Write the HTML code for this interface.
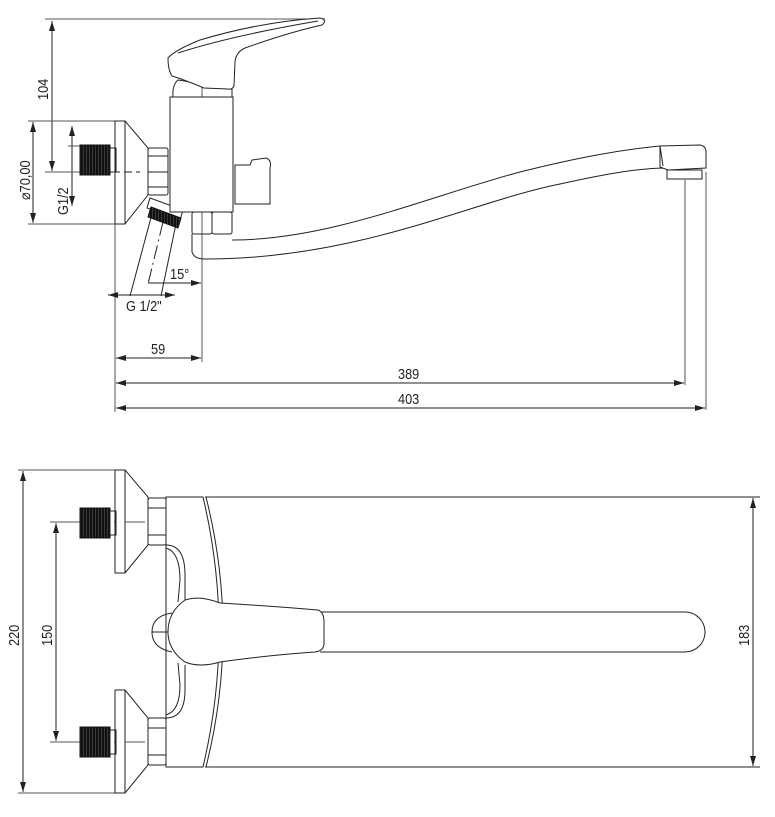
<!DOCTYPE html>
<html><head><meta charset="utf-8"><style>
html,body{margin:0;padding:0;background:#fff;width:775px;height:817px;overflow:hidden}
svg{display:block}
text{font-family:"Liberation Sans",sans-serif;font-size:15px;fill:#222}
</style></head><body>
<svg width="775" height="817" viewBox="0 0 775 817" xmlns="http://www.w3.org/2000/svg">
<defs>
<marker id="a" viewBox="0 0 10 6" refX="10" refY="3" markerWidth="10" markerHeight="6" orient="auto-start-reverse" markerUnits="userSpaceOnUse"><path d="M0,0L10,3L0,6z" fill="#222"/></marker>
<pattern id="th" width="3" height="4" patternUnits="userSpaceOnUse"><rect width="3" height="4" fill="#111"/><rect x="2" width="0.6" height="4" fill="#555"/></pattern>
</defs>
<g fill="none" stroke="#222" stroke-width="1">
<line x1="45" y1="19" x2="325" y2="19" stroke="#555"/>
<line x1="52" y1="21" x2="52" y2="171" marker-start="url(#a)" marker-end="url(#a)"/>
<line x1="45" y1="172" x2="118" y2="172" stroke="#555"/>
<line x1="28" y1="121" x2="115" y2="121" stroke="#555"/>
<line x1="28" y1="224" x2="115" y2="224" stroke="#555"/>
<line x1="33" y1="122" x2="33" y2="223" marker-start="url(#a)" marker-end="url(#a)"/>
<line x1="72" y1="126" x2="72" y2="206" marker-start="url(#a)" marker-end="url(#a)"/>
<line x1="68" y1="146" x2="82" y2="146" stroke="#555"/>
<line x1="68" y1="172" x2="82" y2="172" stroke="#555"/>
<line x1="115" y1="224" x2="115" y2="412" stroke="#555"/>
<line x1="202" y1="85" x2="202" y2="362" stroke="#555"/>
<line x1="116" y1="358" x2="201" y2="358" marker-start="url(#a)" marker-end="url(#a)"/>
<line x1="685" y1="180" x2="685" y2="385" stroke="#555"/>
<line x1="706" y1="172" x2="706" y2="410" stroke="#555"/>
<line x1="116" y1="383" x2="684" y2="383" marker-start="url(#a)" marker-end="url(#a)"/>
<line x1="116" y1="408" x2="705" y2="408" marker-start="url(#a)" marker-end="url(#a)"/>
<line x1="148" y1="283" x2="201" y2="283" marker-end="url(#a)"/>
<line x1="108" y1="295" x2="175" y2="295" marker-start="url(#a)" marker-end="url(#a)"/>
<line x1="153" y1="210" x2="130" y2="296"/>
<line x1="178" y1="214" x2="161" y2="296"/>
<line x1="163" y1="222" x2="148" y2="284" stroke-dasharray="14 4 2 4"/>
<rect x="115" y="121" width="10" height="103" fill="#fff"/>
<path d="M125,121L148,148L148,195L125,224"/>
<rect x="80" y="145" width="30" height="30" fill="url(#th)" stroke="#111"/>
<rect x="110" y="148" width="6" height="24"/>
<line x1="112" y1="172" x2="140" y2="172" stroke-dasharray="8 4"/>
<rect x="148" y="148" width="20" height="47" rx="2"/>
<line x1="148" y1="156" x2="168" y2="156"/><line x1="148" y1="172" x2="168" y2="172"/><line x1="148" y1="187" x2="168" y2="187"/>
<path d="M150,198L183,210L180,220L147,208z" fill="#fff"/>
<path d="M151,207L181,218L178,228L148,217z" fill="url(#th)" stroke="#111"/>
<path d="M170,97L233,97L233,212L170,212z" fill="#fff"/>
<path d="M173,97Q172,85 178,80L232,88L232,97"/>
<path d="M168,58Q175,50 200,40Q260,22 320,18Q328,20 322,25Q290,32 245,48Q236,52 235,62L234,86Q232,90 228,89L204,88Q185,80 172,76Q168,70 168,58z" fill="#fff"/>
<path d="M178,53Q230,36 318,21"/>
<path d="M235,165L250,165L252,160L266,158Q272,160 270,168L270,204L235,204z" fill="#fff"/>
<rect x="192" y="212" width="20" height="22" rx="2"/>
<rect x="212" y="212" width="20" height="22" rx="2"/>
<path d="M192,234L192,252Q194,259 205,259C360,259 470,202 560,184C610,173 640,168 668,168" fill="none"/>
<path d="M232,240C330,240 430,196 520,172C580,157 620,150 660,146"/>
<path d="M660,146L700,145Q706,146 706,152L706,168L668,170L660,167z" fill="#fff"/>
<line x1="660" y1="146" x2="663" y2="166"/>
<rect x="667" y="170" width="35" height="9" fill="#fff"/>
<line x1="18" y1="470" x2="118" y2="470" stroke="#555"/>
<line x1="18" y1="793" x2="118" y2="793" stroke="#555"/>
<line x1="23" y1="471" x2="23" y2="792" marker-start="url(#a)" marker-end="url(#a)"/>
<line x1="50" y1="522" x2="145" y2="522" stroke="#555" stroke-dasharray="60 4 6 4"/>
<line x1="50" y1="742" x2="145" y2="742" stroke="#555" stroke-dasharray="60 4 6 4"/>
<line x1="56" y1="523" x2="56" y2="741" marker-start="url(#a)" marker-end="url(#a)"/>
<line x1="205" y1="497" x2="760" y2="497"/>
<line x1="205" y1="767" x2="760" y2="767"/>
<line x1="753" y1="498" x2="753" y2="766" marker-start="url(#a)" marker-end="url(#a)"/>
<rect x="115" y="470" width="10" height="103" fill="#fff"/>
<path d="M125,470L148,497L148,545L125,573"/>
<rect x="115" y="690" width="10" height="103" fill="#fff"/>
<path d="M125,690L148,718L148,765L125,793"/>
<rect x="80" y="508" width="30" height="30" fill="url(#th)" stroke="#111"/>
<rect x="110" y="511" width="6" height="24"/>
<rect x="80" y="727" width="30" height="30" fill="url(#th)" stroke="#111"/>
<rect x="110" y="730" width="6" height="24"/>
<rect x="148" y="498" width="18" height="47" rx="2" fill="#fff"/>
<line x1="148" y1="508" x2="166" y2="508"/><line x1="148" y1="535" x2="166" y2="535"/>
<rect x="148" y="718" width="18" height="47" rx="2" fill="#fff"/>
<line x1="148" y1="728" x2="166" y2="728"/><line x1="148" y1="755" x2="166" y2="755"/>
<path d="M166,497L203,497Q235,632 203,767L166,767z" fill="#fff"/>
<path d="M206,497Q240,632 206,767"/>
<path d="M166,545Q185,545 185,575L185,600"/>
<path d="M166,718Q185,718 185,690L185,665"/>
<path d="M166,548Q180,552 180,580L178,602"/>
<path d="M166,715Q180,711 180,685L178,663"/>
<path d="M172,613Q152,616 152,632Q152,648 172,652"/>
<line x1="152" y1="632" x2="170" y2="632"/>
<path d="M320,612L685,612A20,20 0 0 1 685,652L320,652"/>
<path d="M185,600Q200,595 220,603Q270,606 318,610Q324,612 324,622L324,643Q324,651 315,652Q270,655 220,662Q200,668 185,662Q168,650 168,632Q168,612 185,600z" fill="#fff"/>
</g>
<g>
<text transform="translate(48,100) rotate(-90) scale(0.85,1)">104</text>
<text transform="translate(30,200) rotate(-90) scale(0.85,1)">⌀70,00</text>
<text transform="translate(68,215) rotate(-90) scale(0.85,1)">G1/2</text>
<text transform="translate(170,279) scale(0.85,1)">15°</text>
<text transform="translate(126,311) scale(0.85,1)">G 1/2"</text>
<text transform="translate(151,354) scale(0.85,1)">59</text>
<text transform="translate(398,379) scale(0.85,1)">389</text>
<text transform="translate(398,404) scale(0.85,1)">403</text>
<text transform="translate(19,646) rotate(-90) scale(0.85,1)">220</text>
<text transform="translate(52,646) rotate(-90) scale(0.85,1)">150</text>
<text transform="translate(749,646) rotate(-90) scale(0.85,1)">183</text>
</g>
</svg>
</body></html>
